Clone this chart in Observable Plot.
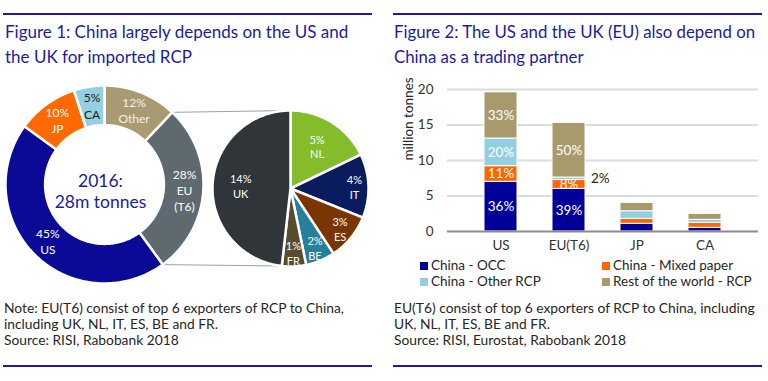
<!DOCTYPE html>
<html><head><meta charset="utf-8">
<script src="https://cdn.jsdelivr.net/npm/d3@7"></script>
<script src="https://cdn.jsdelivr.net/npm/@observablehq/plot@0.6"></script>
<style>
body{margin:0;background:#fff;font-family:Lato,"Open Sans",sans-serif;}
#wrap{position:relative;width:768px;height:381px;overflow:hidden;}
.rule{position:absolute;height:2px;background:#1c1c9c;}
.title{position:absolute;color:#1c1c9e;font-size:17px;line-height:25px;white-space:nowrap;}
.note{position:absolute;color:#262626;white-space:nowrap;}
.abs{position:absolute;}
.leg{position:absolute;font-size:13.5px;color:#262626;white-space:nowrap;line-height:16px;}
.sw{display:inline-block;width:8px;height:8px;margin-right:3px;vertical-align:0px;}
</style></head><body><div id="wrap">
<div class="rule" style="left:3px;top:13px;width:369px"></div>
<div class="rule" style="left:393px;top:13px;width:369px"></div>
<div class="title" style="left:5px;top:19px">Figure 1: China largely depends on the US and<br>the UK for imported RCP</div>
<div class="title" style="left:394px;top:19px;font-size:16.8px">Figure 2: The US and the UK (EU) also depend on<br>China as a trading partner</div>
<div id="left" class="abs" style="left:0;top:75px"></div>
<div id="right" class="abs" style="left:384px;top:75px"></div>
<div id="legend"></div>
<div class="note" style="left:4px;top:300px;font-size:13.8px;line-height:16px">Note: EU(T6) consist of top 6 exporters of RCP to China,<br>including UK, NL, IT, ES, BE and FR.<br>Source: RISI, Rabobank 2018</div>
<div class="note" style="left:394px;top:300px;font-size:13.8px;line-height:16px">EU(T6) consist of top 6 exporters of RCP to China, including<br>UK, NL, IT, ES, BE and FR.<br>Source: RISI, Eurostat, Rabobank 2018</div>
<div class="rule" style="left:3px;top:365px;width:369px"></div>
<div class="rule" style="left:393px;top:365px;width:369px"></div>
</div>
<script>
// ---- Figure 1 data ----
const donutNames = ["Other", "EU\n(T6)", "US", "JP", "CA"];
const donutShares = [12, 28, 45, 10, 5];
const donutColors = ["#a89b72", "#5e6a70", "#0a0a96", "#ff6a00", "#93d0e2"];
const donutTextColors = ["#f4f1e8", "white", "white", "white", "#1a1a1a"];
const centerText = "2016:\n28m tonnes";
const euNames = ["NL", "IT", "ES", "BE", "FR", "UK"];
const euShares = [5.0, 3.7, 2.7, 1.7, 1.4, 13.5];
const euLabels = ["5%", "4%", "3%", "2%", "1%", "14%"];
const euColors = ["#84bc2c", "#0b1c5e", "#7b3503", "#26809c", "#5a4c30", "#2f3539"];

// ---- Figure 2 data ----
const categories = ["US", "EU(T6)", "JP", "CA"];
const seriesNames = ["China - OCC", "China - Mixed paper", "China - Other RCP", "Rest of the world - RCP"];
const seriesColors = ["#000099", "#ff6600", "#92cfe0", "#a89a6c"];
const occValues = [7.0, 6.0, 1.08, 0.52];
const mixedValues = [2.2, 1.25, 0.70, 0.70];
const otherValues = [3.9, 0.35, 1.07, 0.42];
const rowValues = [6.5, 7.7, 1.18, 0.85];
const occLabels = ["36%", "39%", "", ""];
const mixedLabels = ["11%", "8%", "", ""];
const otherLabels = ["20%", "2%", "", ""];
const rowLabels = ["33%", "50%", "", ""];
const yTicks = [0, 5, 10, 15, 20];

// ---------- Figure 1 ----------
const W1 = 384, H1 = 215, R = 99, CX = 104, CY = 109; // layout (px)
const inner = 0.6;
const pieC = [(290 - CX) / R, -(113 - CY) / R], pieR = 78 / R;
function angles(values) {
  const t = d3.sum(values); let a = 0;
  return values.map(v => { const a0 = a; a += v / t * 2 * Math.PI; return [a0, a]; });
}
const pt = (c, r, t) => ({x: c[0] + r * Math.sin(t), y: c[1] + r * Math.cos(t)});
const dA = angles(donutShares), pA = angles(euShares);
const polys = [];
dA.forEach(([a0, a1], i) => {
  const n = Math.max(4, Math.ceil((a1 - a0) / 0.02));
  const pts = [];
  for (let k = 0; k <= n; k++) pts.push(pt([0, 0], 1, a0 + (a1 - a0) * k / n));
  for (let k = n; k >= 0; k--) pts.push(pt([0, 0], inner, a0 + (a1 - a0) * k / n));
  pts.forEach(p => polys.push({...p, k: "d" + i, color: donutColors[i]}));
});
pA.forEach(([a0, a1], i) => {
  const n = Math.max(4, Math.ceil((a1 - a0) / 0.02));
  const pts = [{x: pieC[0], y: pieC[1]}];
  for (let k = 0; k <= n; k++) pts.push(pt(pieC, pieR, a0 + (a1 - a0) * k / n));
  pts.forEach(p => polys.push({...p, k: "p" + i, color: euColors[i]}));
});
const euIdx = donutNames.indexOf("EU\n(T6)");
const connectors = [
  {...pt([0, 0], 1, dA[euIdx][0]), k: "c1"}, {...pt(pieC, pieR, 0), k: "c1"},
  {...pt([0, 0], 1, dA[euIdx][1]), k: "c2"}, {...pt(pieC, pieR, pA[pA.length - 1][0]), k: "c2"}
];
const dLabels = donutNames.map((n, i) => {
  const m = (dA[i][0] + dA[i][1]) / 2;
  return {...pt([0, 0], 0.81, m), text: donutShares[i] + "%\n" + n, color: donutTextColors[i]};
});
const pLabels = euNames.map((n, i) => {
  const m = (pA[i][0] + pA[i][1]) / 2;
  return {...pt(pieC, pieR * (euShares[i] >= 5 ? 0.64 : 0.82), m), text: euLabels[i] + "\n" + n};
});
const left = Plot.plot({
  width: W1, height: H1, margin: 0,
  x: {domain: [-CX / R, (W1 - CX) / R], axis: null},
  y: {domain: [-(H1 - CY) / R, CY / R], axis: null},
  color: {type: "identity"},
  style: {fontFamily: "Lato, sans-serif", background: "transparent"},
  marks: [
    Plot.line(connectors, {x: "x", y: "y", z: "k", stroke: "#9aa3aa", strokeWidth: 1}),
    Plot.line(polys, {x: "x", y: "y", z: "k", fill: "color", stroke: "white", strokeWidth: 2.5, curve: "linear-closed"}),
    Plot.text(dLabels, {x: "x", y: "y", text: "text", fill: "color", fontSize: 12, lineHeight: 1.35}),
    Plot.text(pLabels, {x: "x", y: "y", text: "text", fill: "white", fontSize: 11, lineHeight: 1.35}),
    Plot.text([centerText], {x: 0, y: 0, text: d => d, dx: -4, dy: 6, fill: "#1c1c9e", fontSize: 17.5, lineHeight: 1.22})
  ]
});
document.getElementById("left").appendChild(left);

// ---------- Figure 2 ----------
const valuesBySeries = [occValues, mixedValues, otherValues, rowValues];
const labelsBySeries = [occLabels, mixedLabels, otherLabels, rowLabels];
const rows = [];
seriesNames.forEach((s, i) => categories.forEach((c, j) =>
  rows.push({cat: c, series: s, value: valuesBySeries[i][j], label: labelsBySeries[i][j]})));
const small = d => d.value < 0.8;
const right = Plot.plot({
  width: 384, height: 185, marginLeft: 63, marginRight: 10, marginTop: 14, marginBottom: 29,
  style: {fontFamily: "Lato, sans-serif", fontSize: "13.5px", color: "#333", background: "transparent"},
  x: {domain: categories, padding: 0.51, label: null, tickSize: 0, tickPadding: 9},
  y: {domain: [0, 20], ticks: yTicks, tickSize: 0, tickPadding: 14, label: null},
  color: {domain: seriesNames, range: seriesColors},
  marks: [
    Plot.ruleY(yTicks.slice(1), {stroke: "#dcdcdc", strokeWidth: 2}),
    Plot.barY(rows, {x: "cat", y: "value", fill: "series", stroke: "white", strokeWidth: 1}),
    Plot.ruleY([0], {stroke: "#8c8c8c", strokeWidth: 2}),
    Plot.text(rows, Plot.stackY({x: "cat", y: "value", z: "series", text: d => small(d) ? "" : d.label, fill: "white", fontSize: 13.5})),
    Plot.text(rows, Plot.stackY({x: "cat", y: "value", z: "series", text: d => small(d) ? d.label : "", fill: "#262626", fontSize: 13.5, textAnchor: "start", dx: 22})),
    Plot.text(["million tonnes"], {frameAnchor: "left", text: d => d, rotate: -90, dx: -39, fontSize: 13.5, fill: "#262626"})
  ]
});
document.getElementById("right").appendChild(right);

// legend
const legPos = [[420, 257], [602, 257], [420, 273], [602, 273]];
const lg = document.getElementById("legend");
seriesNames.forEach((s, i) => {
  const d = document.createElement("div");
  d.className = "leg";
  d.style.left = legPos[i][0] + "px"; d.style.top = legPos[i][1] + "px";
  d.innerHTML = `<span class="sw" style="background:${seriesColors[i]}"></span>${s}`;
  lg.appendChild(d);
});
</script>
</body></html>
